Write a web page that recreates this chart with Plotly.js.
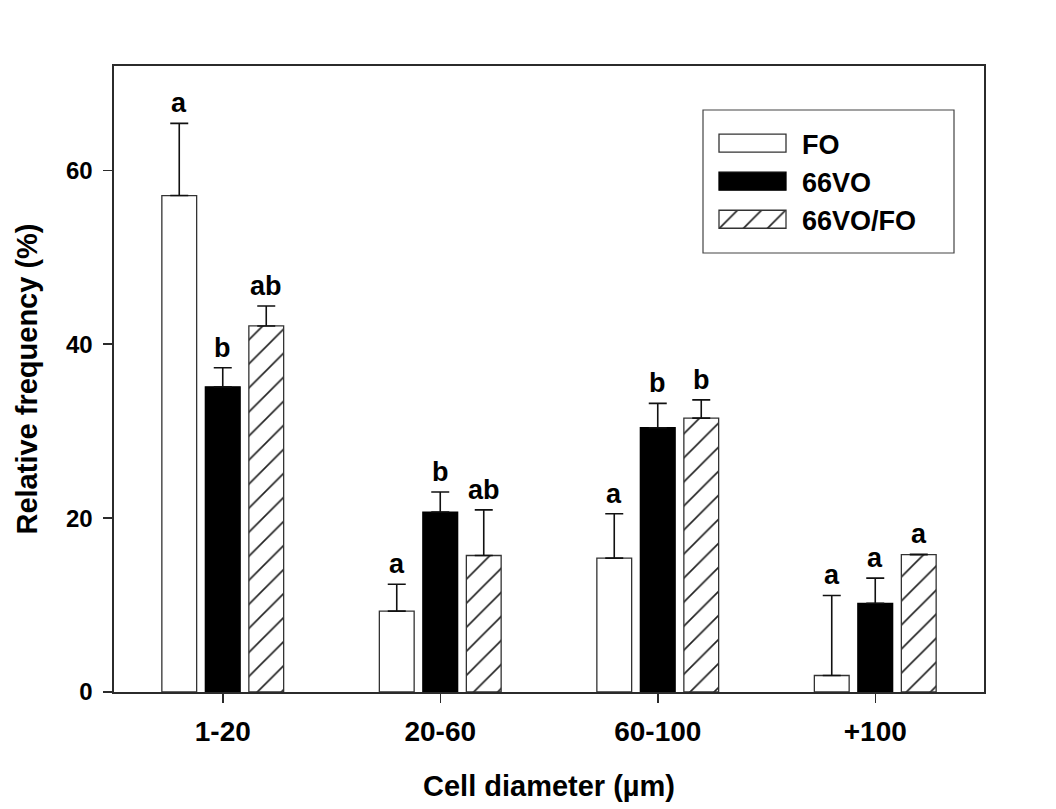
<!DOCTYPE html>
<html>
<head>
<meta charset="utf-8">
<script src="https://cdn.plot.ly/plotly-3.0.1.min.js"></script>
<style>
  html, body { margin: 0; padding: 0; background: #ffffff; }
  #chart { width: 1056px; height: 809px; }
</style>
</head>
<body>
<div id="chart"></div>
<script>
// ---- data ----
const categories = ['1-20', '20-60', '60-100', '+100'];
const seriesNames = ['FO', '66VO', '66VO/FO'];

const foValues = [57.1, 9.3, 15.4, 1.9];
const foErrors = [8.3, 3.1, 5.1, 9.2];
const foLetters = ['a', 'a', 'a', 'a'];

const vo66Values = [35.1, 20.7, 30.4, 10.2];
const vo66Errors = [2.2, 2.3, 2.8, 2.9];
const vo66Letters = ['b', 'b', 'b', 'a'];

const mixValues = [42.1, 15.7, 31.5, 15.8];
const mixErrors = [2.3, 5.25, 2.1, 0.05];
const mixLetters = ['ab', 'ab', 'b', 'a'];

const yTickVals = [0, 20, 40, 60];
const yTickText = ['0', '20', '40', '60'];

// ---- styling / layout constants ----
const FONT = 'Liberation Sans, Arial, Helvetica, sans-serif';
const AXIS_COLOR = '#2b2b2b';
const margin = {l: 114, r: 72, t: 66, b: 117};
const W = 1056, H = 809;
const plotW = W - margin.l - margin.r;
const plotH = H - margin.t - margin.b;
const bargap = 0.4, bargroupgap = 0.2;
const nCat = categories.length;

function errBar(arr) {
  return {type: 'data', symmetric: false, array: arr, arrayminus: arr.map(() => 0),
          color: '#111', thickness: 1.6, width: 9};
}

const traces = [
  {
    type: 'bar', name: seriesNames[0], x: categories, y: foValues,
    marker: {color: '#ffffff', line: {color: '#333', width: 1.3}},
    error_y: errBar(foErrors)
  },
  {
    type: 'bar', name: seriesNames[1], x: categories, y: vo66Values,
    marker: {color: '#000000', line: {color: '#000', width: 1.3}},
    error_y: errBar(vo66Errors)
  },
  {
    type: 'bar', name: seriesNames[2], x: categories, y: mixValues,
    marker: {color: '#ffffff', line: {color: '#333', width: 1.3},
             pattern: {shape: '/', size: 17, solidity: 0.1, fgcolor: '#222', bgcolor: '#ffffff', fillmode: 'replace'}},
    error_y: errBar(mixErrors)
  }
];

// letter annotations above each bar's error bar
const groups = [
  {vals: foValues, errs: foErrors, letters: foLetters},
  {vals: vo66Values, errs: vo66Errors, letters: vo66Letters},
  {vals: mixValues, errs: mixErrors, letters: mixLetters}
];
const unitPx = plotW / nCat;                 // pixels per category
const slot = (1 - bargap) / groups.length;   // category fraction per bar slot
const annotations = [];
groups.forEach((g, k) => {
  const shift = (k - (groups.length - 1) / 2) * slot * unitPx;
  categories.forEach((c, i) => {
    annotations.push({
      x: i, y: g.vals[i] + g.errs[i], xref: 'x', yref: 'y',
      text: g.letters[i], showarrow: false,
      xanchor: 'center', yanchor: 'bottom', xshift: shift, yshift: 3,
      font: {family: FONT, size: 27, color: '#000', weight: 'bold'}
    });
  });
});

// legend frame (px in the figure -> paper fractions)
const legBox = {left: 703, right: 954, top: 110, bottom: 253};
const px2x = p => (p - margin.l) / plotW;
const px2y = p => (H - margin.b - p) / plotH;

const layout = {
  width: W, height: H,
  margin: margin,
  paper_bgcolor: '#ffffff', plot_bgcolor: '#ffffff',
  barmode: 'group', bargap: bargap, bargroupgap: bargroupgap,
  showlegend: true,
  legend: {
    x: px2x(legBox.left), y: px2y(legBox.top + 9), xanchor: 'left', yanchor: 'top',
    bgcolor: 'rgba(0,0,0,0)', borderwidth: 0,
    font: {family: FONT, size: 27, color: '#000', weight: 'bold'},
    itemwidth: 89, tracegroupgap: 0
  },
  shapes: [{
    type: 'rect', xref: 'paper', yref: 'paper', layer: 'above',
    x0: px2x(legBox.left), x1: px2x(legBox.right),
    y0: px2y(legBox.bottom), y1: px2y(legBox.top),
    line: {color: '#444', width: 1.2}, fillcolor: 'rgba(0,0,0,0)'
  }],
  xaxis: {
    type: 'category', range: [-0.5, nCat - 0.5],
    showline: true, linecolor: AXIS_COLOR, linewidth: 1.6, mirror: true,
    ticks: 'outside', ticklen: 9, tickwidth: 1.5, tickcolor: AXIS_COLOR,
    tickfont: {family: FONT, size: 28, color: '#000', weight: 'bold'},
    ticklabelstandoff: 5,
    showgrid: false, zeroline: false,
    title: {text: 'Cell diameter (µm)', standoff: 29,
            font: {family: FONT, size: 29, color: '#000', weight: 'bold'}}
  },
  yaxis: {
    range: [0, 72],
    tickvals: yTickVals, ticktext: yTickText,
    showline: true, linecolor: AXIS_COLOR, linewidth: 1.6, mirror: true,
    ticks: 'outside', ticklen: 9, tickwidth: 1.5, tickcolor: AXIS_COLOR,
    tickfont: {family: FONT, size: 24, color: '#000', weight: 'bold'},
    ticklabelstandoff: 6,
    showgrid: false, zeroline: false,
    title: {text: 'Relative frequency (%)', standoff: 20,
            font: {family: FONT, size: 29, color: '#000', weight: 'bold'}}
  },
  annotations: annotations
};

// enlarge the legend swatches to wide rectangles like the reference,
// and give the hatched swatch the same hatch spacing as its bars
function widenSwatches() {
  const barTraces = document.querySelectorAll('#chart .barlayer .trace');
  const legendItems = document.querySelectorAll('#chart .legend .traces');
  legendItems.forEach((item, idx) => {
    item.querySelectorAll('.legendpoints path').forEach(p => {
      p.setAttribute('d', 'M33.5,9H-33.5V-9H33.5Z');
      const barPath = barTraces[idx] && barTraces[idx].querySelector('.point path');
      if (barPath && barPath.style.fill && barPath.style.fill.indexOf('url') >= 0) {
        p.style.fill = barPath.style.fill;
      }
    });
  });
}

Plotly.newPlot('chart', traces, layout, {displayModeBar: false, staticPlot: true})
  .then(gd => { widenSwatches(); gd.on('plotly_afterplot', widenSwatches); });
</script>
</body>
</html>
